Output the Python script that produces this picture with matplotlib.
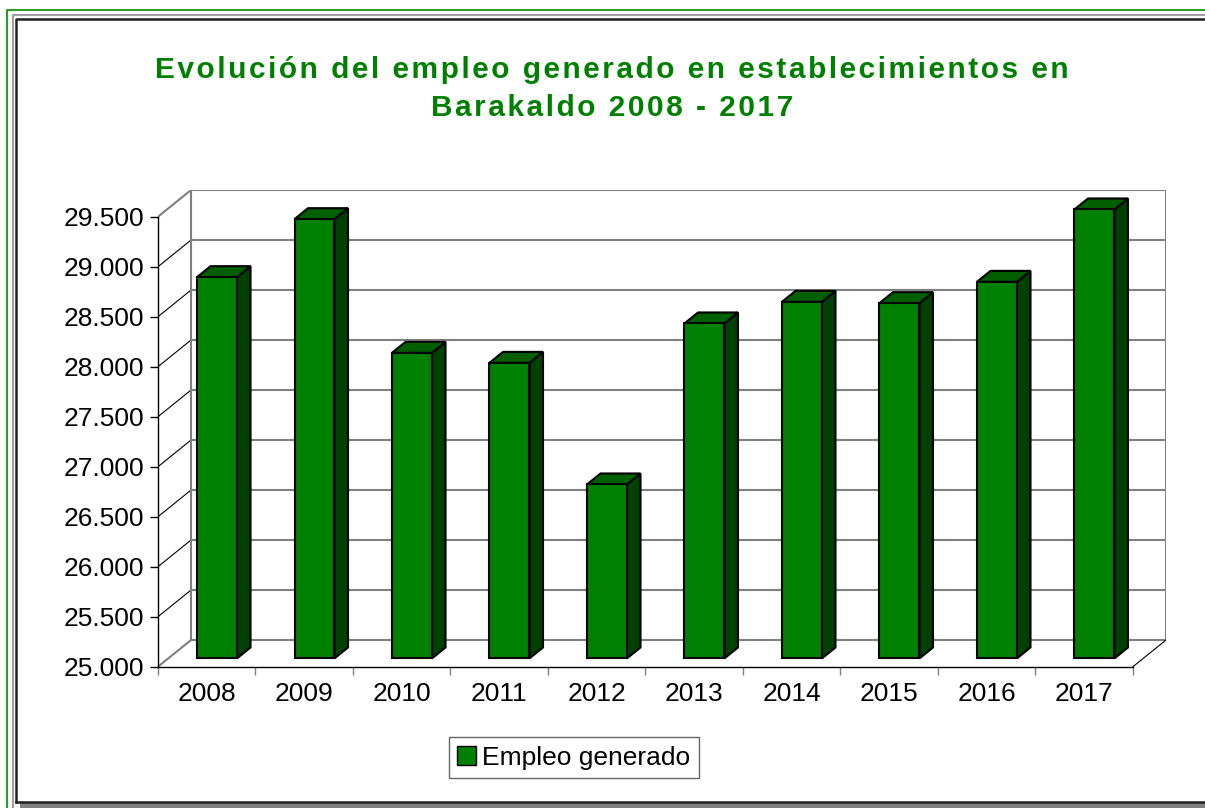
#!/usr/bin/env python3
"""Pseudo-3D column chart: empleo generado en Barakaldo 2008-2017."""

import matplotlib
matplotlib.use("Agg", force=True)

import matplotlib.pyplot as plt
import numpy as np
from matplotlib.lines import Line2D
from matplotlib.patches import Patch, Polygon, Rectangle

# --- data -----------------------------------------------------------------
years = ["2008", "2009", "2010", "2011", "2012", "2013", "2014", "2015", "2016", "2017"]
empleo = [28813, 29393, 28056, 27956, 26740, 28350, 28566, 28553, 28766, 29490]
y_ticks = [25000, 25500, 26000, 26500, 27000, 27500, 28000, 28500, 29000, 29500]
series_name = "Empleo generado"
title_lines = ["Evolución del empleo generado en establecimientos en",
               "Barakaldo 2008 - 2017"]

# --- style ----------------------------------------------------------------
W_PX, H_PX = 1205, 808
GREEN = "#008000"
TOP = "#006000"
SIDE = "#004000"
GRID = "#808080"

# depth of the 3D box, in data units
DX = 0.339          # categories
DY = 267            # value units
D0, D1 = 0.31, 0.72  # bar front/back position inside the depth
BAR_W = 0.41

plt.rcParams["font.family"] = ["Liberation Sans", "DejaVu Sans"]


def fx(px):
    return px / W_PX


def fy(py):
    return 1 - py / H_PX


def spaced(text, sep="\u200a"):
    # Excel-style letter spacing: hair space between every character
    return sep.join(text)


fig = plt.figure(figsize=(W_PX / 100, H_PX / 100), dpi=100)

ymin, ymax = y_ticks[0], y_ticks[-1]
n = len(years)
ax = fig.add_axes([fx(158), fy(666.7), fx(1166) - fx(158), fy(190) - fy(666.7)])
ax.set_xlim(-0.5, n - 0.5 + DX)
ax.set_ylim(ymin, ymax + DY)
ax.patch.set_alpha(0)

for s in ("top", "right"):
    ax.spines[s].set_visible(False)
ax.spines["left"].set_bounds(ymin, ymax)
ax.spines["bottom"].set_bounds(-0.5, n - 0.5)
ax.spines["left"].set_linewidth(1.0)
ax.spines["bottom"].set_linewidth(1.0)

# y axis
ax.set_yticks(y_ticks)
ax.set_yticklabels([f"{v:,}".replace(",", ".") for v in y_ticks], fontsize=19)
ax.tick_params(axis="y", direction="out", length=6, width=1, pad=4)

# x axis: marks at category edges, labels at centers
ax.set_xticks(np.arange(-0.5, n, 1.0))
ax.set_xticklabels([])
ax.tick_params(axis="x", which="major", direction="out", length=6, width=1, color=GRID)
ax.set_xticks(np.arange(n), minor=True)
ax.set_xticklabels(years, minor=True, fontsize=19)
ax.tick_params(axis="x", which="minor", length=0, pad=11)

# walls and gridlines
x_left, x_right = -0.5, n - 0.5
for v in y_ticks:
    ax.plot([x_left + DX, x_right + DX], [v + DY, v + DY], color=GRID, lw=1.5, zorder=1)
    edge = v in (ymin, ymax)
    ax.plot([x_left, x_left + DX], [v, v + DY],
            color=GRID if edge else "black", lw=1.5 if edge else 0.8, zorder=1)
for xv in (x_left + DX, x_right + DX):
    ax.plot([xv, xv], [ymin + DY, ymax + DY], color=GRID, lw=1.5, zorder=1)
ax.plot([x_right, x_right + DX], [ymin, ymin + DY], color="black", lw=0.8, zorder=1)

# bars
bdx = (D1 - D0) * DX
bdy = (D1 - D0) * DY
for i, v in enumerate(empleo):
    x0 = i - BAR_W / 2 + D0 * DX
    yb = ymin + D0 * DY
    yt = v + D0 * DY
    side = Polygon([(x0 + BAR_W, yb), (x0 + BAR_W + bdx, yb + bdy),
                    (x0 + BAR_W + bdx, yt + bdy), (x0 + BAR_W, yt)],
                   closed=True, facecolor=SIDE, edgecolor="black", lw=1.5, zorder=3)
    top = Polygon([(x0, yt), (x0 + BAR_W, yt), (x0 + BAR_W + bdx, yt + bdy),
                   (x0 + bdx, yt + bdy)],
                  closed=True, facecolor=TOP, edgecolor="black", lw=1.5, zorder=3)
    front = Rectangle((x0, yb), BAR_W, v - ymin,
                      facecolor=GREEN, edgecolor="black", lw=1.5, zorder=4)
    for p in (side, top, front):
        ax.add_patch(p)

# title (two lines, letter-spaced)
for line, ypx in zip(title_lines, (70, 108)):
    fig.text(fx(612), fy(ypx), spaced(line), ha="center", va="center", fontsize=21.5,
             fontweight="bold", color=GREEN)

# legend
handle = Patch(facecolor=GREEN, edgecolor="black", lw=1.0, label=series_name)
leg = fig.legend(handles=[handle], loc="center", bbox_to_anchor=(fx(574), fy(757.5)),
                 fontsize=19, frameon=True, fancybox=False, shadow=False,
                 handlelength=0.7, handleheight=0.7, handletextpad=0.25,
                 borderpad=0.32, borderaxespad=0)
leg.get_frame().set_edgecolor("#404040")
leg.get_frame().set_linewidth(1.0)

# outer chart frame
fig.add_artist(Line2D([fx(7), fx(7), fx(W_PX)], [fy(H_PX), fy(10), fy(10)],
                      color="#2e9a2e", lw=1.5))
fig.add_artist(Line2D([fx(12.5), fx(12.5), fx(W_PX)], [fy(H_PX), fy(15), fy(15)],
                      color="#a0a0a0", lw=1.5))
fig.add_artist(Line2D([fx(16), fx(16), fx(W_PX)], [fy(802), fy(19), fy(19)],
                      color="#202020", lw=1.8))
fig.add_artist(Line2D([fx(16), fx(W_PX)], [fy(802), fy(802)], color="#202020", lw=1.8))
fig.add_artist(Rectangle((fx(20), 0), 1 - fx(20), fy(803), transform=fig.transFigure,
                         facecolor="#808080", edgecolor="none"))

fig.savefig("out.png", dpi=100)
